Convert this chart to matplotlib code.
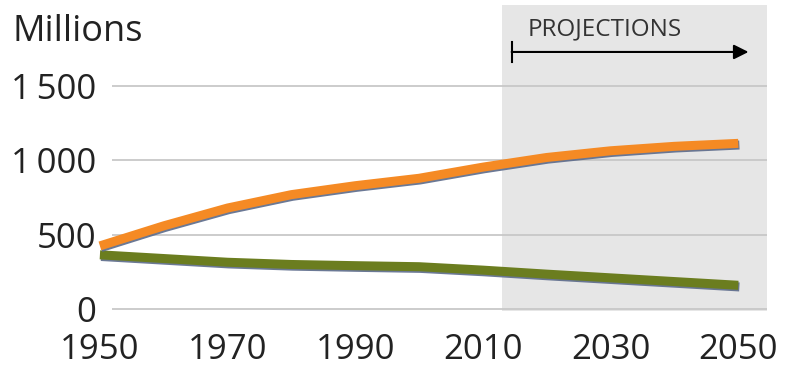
import matplotlib
matplotlib.use("Agg")
import matplotlib.pyplot as plt
import matplotlib.patheffects as pe

plt.rcParams['font.family'] = ['Open Sans', 'DejaVu Sans']

years = [1950, 1960, 1970, 1980, 1990, 2000, 2010, 2020, 2030, 2040, 2050]
orange_series = [425, 560, 680, 770, 830, 880, 955, 1020, 1065, 1095, 1115]
green_series = [365, 340, 315, 300, 292, 285, 262, 235, 210, 185, 160]

y_ticks = [0, 500, 1000, 1500]
y_tick_labels = ["0", "500", "1\u2009000", "1\u2009500"]
x_ticks = [1950, 1970, 1990, 2010, 2030, 2050]
projection_start = 2013

W, H = 787, 368
fig = plt.figure(figsize=(W / 100, H / 100), dpi=100)
ax = fig.add_axes([98 / W, (H - 311) / H, (767 - 98) / W, (311 - 5) / H])

x0, x1 = 1949.7, 2054.5
ax.set_xlim(x0, x1)
ax.set_ylim(-13, 2046)

# shaded projection period
ax.axvspan(projection_start, x1, color='#e6e6e6', zorder=0, lw=0)

# horizontal gridlines, starting a little right of the axis origin
ax.hlines(y_ticks, 1951.9, x1, color='#c8c8c8', lw=1.3, zorder=1)

shadow = [pe.SimpleLineShadow(offset=(0.8, -1.2), shadow_color='#5b6a8a', alpha=0.9),
          pe.Normal()]
ax.plot(years, green_series, color='#6b7d1f', lw=6.5, solid_capstyle='butt',
        path_effects=shadow, zorder=3)
ax.plot(years, orange_series, color='#f58a24', lw=6.5, solid_capstyle='butt',
        path_effects=shadow, zorder=4)

# projections arrow
ax.annotate('', xy=(2051.6, 1730), xytext=(2014.5, 1730),
            arrowprops=dict(arrowstyle='-|>', color='black', lw=1.5,
                            mutation_scale=22, shrinkA=0, shrinkB=0))
ax.plot([2014.5, 2014.5], [1660, 1800], color='black', lw=1.5)
ax.text(2017.0, 1880, 'PROJECTIONS', fontsize=17.5, color='#333333',
        va='center', ha='left')

ax.set_yticks(y_ticks)
ax.set_yticklabels(y_tick_labels)
ax.set_xticks(x_ticks)
ax.tick_params(axis='both', length=0, labelsize=25, colors='#222222')
ax.tick_params(axis='y', pad=1)
ax.tick_params(axis='x', pad=16)
for s in ax.spines.values():
    s.set_visible(False)

fig.text(12 / W, 1 - 32 / H, 'Millions', fontsize=26, color='#222222',
         va='center', ha='left')

fig.savefig('out.png', dpi=100)
